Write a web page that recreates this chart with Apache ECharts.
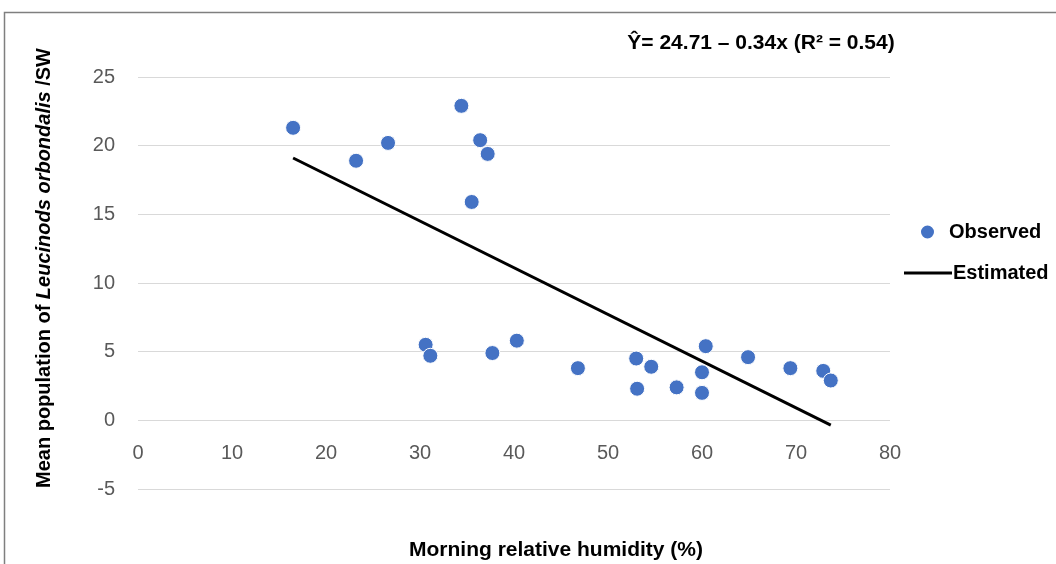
<!DOCTYPE html>
<html>
<head>
<meta charset="utf-8">
<script src="https://cdn.jsdelivr.net/npm/echarts@6/dist/echarts.min.js"></script>
<style>
  html, body { margin: 0; padding: 0; background: #fff; }
  #chart { width: 1056px; height: 564px; }
</style>
</head>
<body>
<div id="chart"></div>
<script>
// Morning relative humidity (%) vs mean population per plant
const humidity = [16.5, 23.2, 26.6, 34.4, 36.4, 37.2, 35.5, 30.6, 31.1, 37.7, 40.3, 46.8,
                  53.0, 54.6, 53.1, 57.3, 60.0, 60.0, 60.4, 64.9, 69.4, 72.9, 73.7];
const population = [21.3, 18.9, 20.2, 22.9, 20.4, 19.4, 15.9, 5.5, 4.7, 4.9, 5.8, 3.8,
                    4.5, 3.9, 2.3, 2.4, 3.5, 2.0, 5.4, 4.6, 3.8, 3.6, 2.9];
// Fitted line endpoints: Y = 24.71 - 0.34x
const estimatedX = [16.5, 73.7];
const estimatedY = [19.1, -0.35];

const xTicks = { min: 0, max: 80, interval: 10 };
const yTicks = { min: -5, max: 25, interval: 5 };

const FONT = '"Liberation Sans", "Open Sans", sans-serif';

const observed = humidity.map((x, i) => [x, population[i]]);
const estimated = estimatedX.map((x, i) => [x, estimatedY[i]]);

// plot area
const GRID = { left: 138, right: 166, top: 77, bottom: 75 };
const plotHeight = 564 - GRID.top - GRID.bottom;
// x axis sits on the y = 0 line
const xAxisShift = -plotHeight * (0 - yTicks.min) / (yTicks.max - yTicks.min);

const chart = echarts.init(document.getElementById('chart'), null, { renderer: 'canvas' });
chart.setOption({
  animation: false,
  backgroundColor: '#fff',
  textStyle: { fontFamily: FONT },
  grid: GRID,
  xAxis: {
    type: 'value',
    min: xTicks.min, max: xTicks.max, interval: xTicks.interval,
    offset: xAxisShift,
    axisLine: { show: false, onZero: false },
    axisTick: { show: false },
    splitLine: { show: false },
    axisLabel: { color: '#595959', fontSize: 20, margin: 23, fontFamily: FONT }
  },
  yAxis: {
    type: 'value',
    min: yTicks.min, max: yTicks.max, interval: yTicks.interval,
    axisLine: { show: false },
    axisTick: { show: false },
    splitLine: { show: true, lineStyle: { color: '#d9d9d9', width: 1 } },
    axisLabel: { color: '#595959', fontSize: 20, margin: 23, fontFamily: FONT }
  },
  legend: [
    {
      data: [{ name: 'Observed', icon: 'circle' }],
      left: 914, top: 217,
      itemWidth: 15, itemHeight: 15, itemGap: 0,
      itemStyle: { opacity: 1 },
      textStyle: { fontSize: 20, fontWeight: 'bold', color: '#000', padding: [0, 0, 0, 9], fontFamily: FONT }
    },
    {
      data: [{ name: 'Estimated', icon: 'rect' }],
      left: 899, top: 258,
      itemWidth: 48, itemHeight: 3, itemGap: 0,
      textStyle: { fontSize: 20, fontWeight: 'bold', color: '#000', padding: [0, 0, 0, -4], fontFamily: FONT }
    }
  ],
  series: [
    {
      name: 'Estimated',
      type: 'line',
      data: estimated,
      symbol: 'none',
      lineStyle: { color: '#000', width: 3 },
      itemStyle: { color: '#000' },
      z: 2
    },
    {
      name: 'Observed',
      type: 'scatter',
      data: observed,
      symbol: 'circle',
      symbolSize: 15,
      itemStyle: { color: '#4472c4', borderColor: '#fff', borderWidth: 1, opacity: 1 },
      z: 3
    }
  ],
  graphic: [
    {
      type: 'polyline',
      shape: { points: [[4.5, 564], [4.5, 12.5], [1056, 12.5]] },
      style: { stroke: '#7f7f7f', lineWidth: 1.5, fill: null },
      silent: true
    },
    {
      type: 'text',
      x: 761, y: 43,
      style: {
        text: 'Ŷ= 24.71 – 0.34x (R² = 0.54)',
        align: 'center', verticalAlign: 'middle',
        fontSize: 21, fontWeight: 'bold', fill: '#000', fontFamily: FONT
      }
    },
    {
      type: 'text',
      x: 44, y: 268,
      rotation: Math.PI / 2,
      style: {
        text: '{b|Mean population of }{i|Leucinods orbondalis}{b| /SW}',
        align: 'center', verticalAlign: 'middle',
        rich: {
          b: { fontSize: 20, fontWeight: 'bold', fill: '#000', fontFamily: FONT },
          i: { fontSize: 20, fontWeight: 'bold', fontStyle: 'italic', fill: '#000', fontFamily: FONT }
        }
      }
    },
    {
      type: 'text',
      x: 556, y: 550,
      style: {
        text: 'Morning relative humidity (%)',
        align: 'center', verticalAlign: 'middle',
        fontSize: 21, fontWeight: 'bold', fill: '#000', fontFamily: FONT
      }
    }
  ]
});
</script>
</body>
</html>
